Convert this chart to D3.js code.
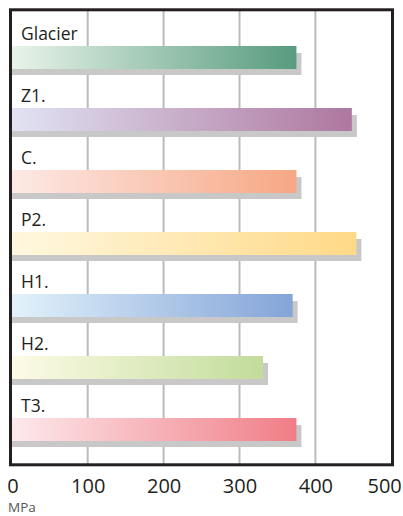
<!DOCTYPE html>
<html><head><meta charset="utf-8">
<script src="https://cdn.jsdelivr.net/npm/d3@7"></script>
<style>html,body{margin:0;padding:0;background:#fff;}svg{display:block;}</style>
</head><body>
<svg id="chart" width="403" height="516"></svg>
<script>
const categories = ["Glacier", "Z1.", "C.", "P2.", "H1.", "H2.", "T3."];
const values = [375, 448, 375, 454, 370, 331, 375];
const startColors = ["#e9f4e9", "#e1e3f3", "#fde9e6", "#fff8e0", "#e2f2fb", "#fdfbe6", "#fde9ec"];
const endColors = ["#579b7e", "#ae779f", "#f6a784", "#ffd987", "#84a4d8", "#c2dc9c", "#f07d86"];
const ticks = [0, 100, 200, 300, 400, 500];
const unitLabel = "MPa";

const svg = d3.select("#chart");
const x = d3.scaleLinear().domain([0, 500]).range([11.8, 391.3]);
const y = d3.scaleBand().domain(categories).range([8, 442]).paddingInner(0).paddingOuter(0);
const barOffset = 38, barH = 23;

const defs = svg.append("defs");
categories.forEach((c, i) => {
  const g = defs.append("linearGradient").attr("id", "grad" + i)
    .attr("x1", "0").attr("x2", "1").attr("y1", "0").attr("y2", "0");
  g.append("stop").attr("offset", "0").attr("stop-color", startColors[i]);
  g.append("stop").attr("offset", "1").attr("stop-color", endColors[i]);
});

// gridlines
svg.append("g").selectAll("line").data(ticks.filter(t => t > 0 && t < 500)).join("line")
  .attr("x1", d => x(d)).attr("x2", d => x(d))
  .attr("y1", 10).attr("y2", 465)
  .attr("stroke", "#bbbbbf").attr("stroke-width", 2);

// shadows
svg.append("g").selectAll("rect").data(categories).join("rect")
  .attr("x", x(0)).attr("y", d => y(d) + barOffset + 7)
  .attr("width", (d, i) => x(values[i]) - x(0) + 5)
  .attr("height", barH - 1)
  .attr("fill", "#c8c8c9");

// bars
svg.append("g").selectAll("rect").data(categories).join("rect")
  .attr("x", x(0)).attr("y", d => y(d) + barOffset)
  .attr("width", (d, i) => x(values[i]) - x(0))
  .attr("height", barH)
  .attr("fill", (d, i) => `url(#grad${i})`);

// labels
svg.append("g").selectAll("text").data(categories).join("text")
  .attr("x", 21).attr("y", d => y(d) + barOffset - 6)
  .attr("font-family", "Open Sans, sans-serif").attr("font-size", 17.5)
  .attr("fill", "#231f20")
  .text(d => d);

// frame
svg.append("rect").attr("x", 10.5).attr("y", 9.8).attr("width", 382).attr("height", 455)
  .attr("fill", "none").attr("stroke", "#231f20").attr("stroke-width", 3);

// axis
const axis = d3.axisBottom(x).tickValues(ticks).tickSize(0).tickPadding(0).tickFormat(d3.format("d"));
const ax = svg.append("g").attr("transform", "translate(0,479)").call(axis);
ax.select(".domain").remove();
ax.selectAll("text").attr("font-family", "Open Sans, sans-serif").attr("font-size", 20)
  .attr("fill", "#231f20").attr("dy", "0.71em").attr("y", 0);
ax.selectAll(".tick text").filter(d => d === 0).attr("text-anchor", "start").attr("dx", -5);
ax.selectAll(".tick text").filter(d => d === 500).attr("text-anchor", "end").attr("dx", 10);

svg.append("text").attr("x", 8).attr("y", 512)
  .attr("font-family", "Open Sans, sans-serif").attr("font-size", 13.5)
  .attr("fill", "#555").text(unitLabel);
</script>
</body></html>
